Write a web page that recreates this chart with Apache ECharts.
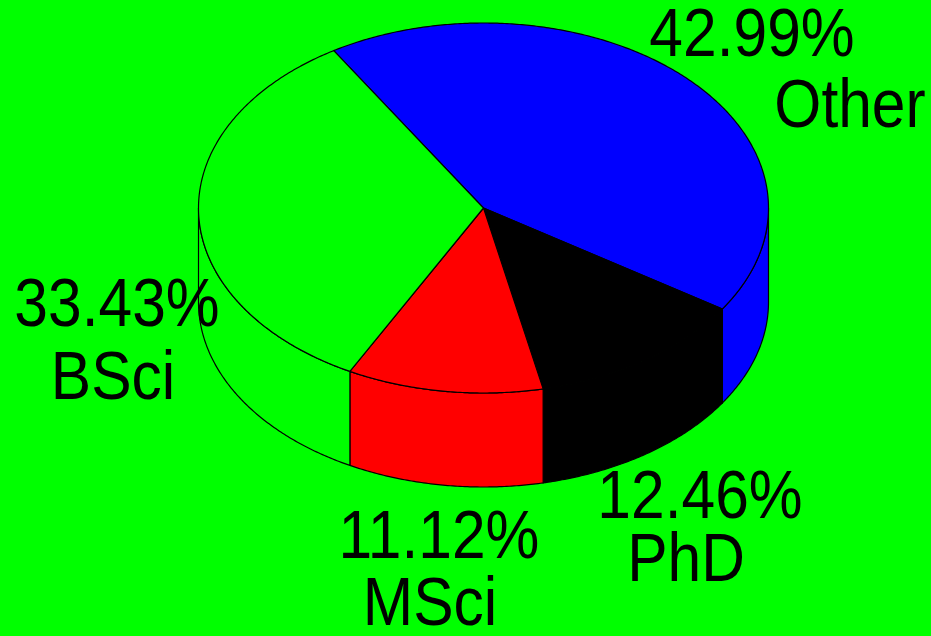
<!DOCTYPE html>
<html>
<head>
<meta charset="utf-8">
<script src="https://cdn.jsdelivr.net/npm/echarts@6/dist/echarts.min.js"></script>
<style>
html,body{margin:0;padding:0;background:#00ff00;}
#main{width:931px;height:636px;}
</style>
</head>
<body>
<div id="main"></div>
<script>
// ---- data ----
const categories = ['Other', 'PhD', 'MSci', 'BSci'];
const values = [42.99, 12.46, 11.12, 33.43];
const colors = ['#0000ff', '#000000', '#ff0000', '#00ff00'];

// ---- layout (not data) ----
const PIE = { cx: 483.5, cy: 208, rx: 285, ry: 185, depth: 94, startAngle: 121.7 };
const LABEL_POS = [
  [[752, 37], [850, 108]],
  [[700, 499], [686, 562]],
  [[439, 539], [430, 606]],
  [[117, 307], [113, 380]]
];
const FONT_SIZE = 68;
const TEXT_SCALE_X = 0.89;
const EDGE_WIDTH = 1.2;

const total = values.reduce((a, b) => a + b, 0);
const angles = [];
(function () {
  let a = PIE.startAngle;
  values.forEach(v => {
    const span = v / total * 360;
    angles.push([a, a - span]); // clockwise
    a -= span;
  });
})();

function pt(deg, dy) {
  const r = deg * Math.PI / 180;
  return [PIE.cx + PIE.rx * Math.cos(r), PIE.cy - PIE.ry * Math.sin(r) + (dy || 0)];
}
function arc(a, b, dy) {
  const n = Math.max(2, Math.ceil(Math.abs(b - a) / 0.5));
  const pts = [];
  for (let i = 0; i <= n; i++) pts.push(pt(a + (b - a) * i / n, dy));
  return pts;
}

const data = values.map((v, i) => ({ value: v, name: categories[i], itemStyle: { color: colors[i] } }));

function renderWall(params, api) {
  const i = params.dataIndex;
  const hi = angles[i][0], lo = angles[i][1];
  const children = [];
  [-360, 0, 360].forEach(k => {
    const s = Math.max(lo, -180 + k), e = Math.min(hi, 0 + k);
    if (e > s) {
      const top = arc(s, e, 0);
      const bot = arc(e, s, PIE.depth);
      children.push({
        type: 'polygon',
        shape: { points: top.concat(bot) },
        style: { fill: colors[i], stroke: '#000', lineWidth: EDGE_WIDTH }
      });
    }
  });
  return { type: 'group', children: children };
}

function renderTop(params, api) {
  const i = params.dataIndex;
  const pts = [[PIE.cx, PIE.cy]].concat(arc(angles[i][0], angles[i][1], 0));
  return {
    type: 'polygon',
    shape: { points: pts },
    style: { fill: colors[i], stroke: '#000', lineWidth: EDGE_WIDTH }
  };
}

function renderLabel(params, api) {
  const i = params.dataIndex;
  const pct = (values[i] / total * 100).toFixed(2) + '%';
  const lines = [pct, categories[i]];
  return {
    type: 'group',
    children: lines.map((t, j) => ({
      type: 'text',
      x: LABEL_POS[i][j][0],
      y: LABEL_POS[i][j][1],
      scaleX: TEXT_SCALE_X,
      style: {
        text: t,
        fill: '#000',
        font: FONT_SIZE + 'px "Liberation Sans", Arial, sans-serif',
        align: 'center',
        verticalAlign: 'middle'
      }
    }))
  };
}

const chart = echarts.init(document.getElementById('main'), null, { renderer: 'canvas' });
chart.setOption({
  backgroundColor: '#00ff00',
  animation: false,
  series: [
    { type: 'custom', coordinateSystem: 'none', renderItem: renderWall, data: data, z: 1, silent: true },
    { type: 'custom', coordinateSystem: 'none', renderItem: renderTop, data: data, z: 2, silent: true },
    { type: 'custom', coordinateSystem: 'none', renderItem: renderLabel, data: data, z: 3, silent: true }
  ]
});
</script>
</body>
</html>
